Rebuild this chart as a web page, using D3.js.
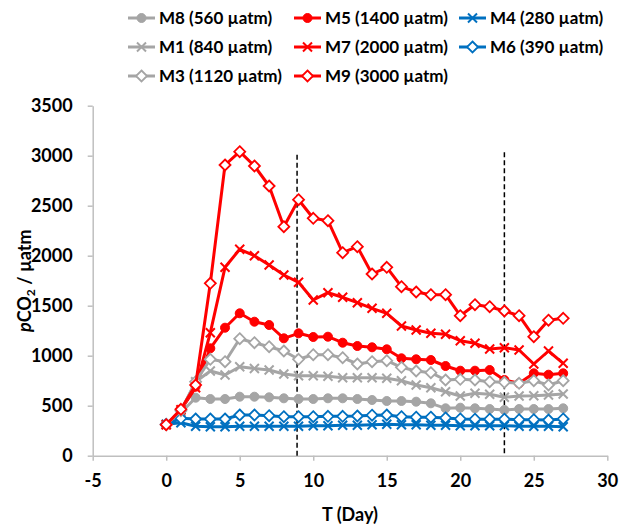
<!DOCTYPE html>
<html>
<head>
<meta charset="utf-8">
<script src="https://cdn.jsdelivr.net/npm/d3@7/dist/d3.min.js"></script>
<style>
  html, body { margin: 0; padding: 0; background: #fff; }
  svg text { font-family: Lato, "Open Sans", sans-serif; font-weight: bold; fill: #000; }
</style>
</head>
<body>
<svg id="chart" width="622" height="531"></svg>
<script>
// ---- data ----
const days = d3.range(0, 28);
const M8 = [310, 430, 580, 567, 567, 590, 590, 584, 574, 567, 567, 574, 574, 567, 557, 547, 547, 540, 524, 474, 480, 474, 467, 457, 467, 467, 467, 474];
const M5 = [310, 460, 690, 1074, 1280, 1424, 1340, 1307, 1174, 1224, 1187, 1190, 1130, 1097, 1084, 1064, 974, 964, 957, 897, 850, 850, 857, 757, 724, 824, 810, 824];
const M4 = [314, 330, 295, 290, 290, 295, 295, 295, 295, 295, 300, 300, 305, 305, 310, 314, 310, 310, 305, 305, 300, 300, 300, 300, 295, 295, 295, 290];
const M1 = [310, 440, 740, 847, 807, 890, 872, 857, 817, 800, 800, 795, 780, 780, 780, 774, 750, 707, 680, 640, 597, 624, 614, 584, 597, 600, 607, 617];
const M7 = [310, 460, 680, 1230, 1884, 2064, 2000, 1907, 1807, 1734, 1557, 1630, 1584, 1530, 1474, 1424, 1297, 1257, 1224, 1214, 1150, 1124, 1067, 1080, 1057, 917, 1047, 924];
const M6 = [314, 374, 367, 367, 367, 407, 407, 400, 390, 390, 390, 394, 394, 397, 405, 407, 390, 385, 385, 378, 368, 365, 365, 365, 360, 360, 357, 368];
const M3 = [310, 450, 740, 964, 940, 1170, 1130, 1090, 1047, 964, 1010, 1010, 980, 917, 940, 950, 884, 847, 830, 757, 764, 757, 740, 734, 724, 750, 707, 750];
const M9 = [310, 464, 707, 1724, 2907, 3040, 2897, 2697, 2290, 2560, 2374, 2350, 2030, 2090, 1817, 1884, 1690, 1637, 1610, 1610, 1400, 1510, 1490, 1447, 1400, 1190, 1355, 1374];

const seriesNames = ["M8 (560 µatm)", "M5 (1400 µatm)", "M4 (280 µatm)", "M1 (840 µatm)", "M7 (2000 µatm)", "M6 (390 µatm)", "M3 (1120 µatm)", "M9 (3000 µatm)"];
const seriesValues = [M8, M5, M4, M1, M7, M6, M3, M9];
const seriesColors = ["#A5A5A5", "#FF0000", "#0070C0", "#A5A5A5", "#FF0000", "#0070C0", "#A5A5A5", "#FF0000"];
const seriesMarkers = ["circle", "circle", "x", "x", "x", "diamond", "diamond", "diamond"];

const xTicks = [-5, 0, 5, 10, 15, 20, 25, 30];
const yTicks = [0, 500, 1000, 1500, 2000, 2500, 3000, 3500];
const dashedDays = [8.9, 23];
const dashedTop = [3010, 3035];

// ---- layout ----
const svg = d3.select("#chart");
const x = d3.scaleLinear().domain([-5, 30]).range([92.7, 607.3]);
const y = d3.scaleLinear().domain([0, 3500]).range([455.7, 105.7]);

// axes
const axisColor = "#BFBFBF";
const gx = svg.append("g").attr("transform", `translate(0,${y(0)})`)
  .call(d3.axisBottom(x).tickValues(xTicks).tickSize(5).tickSizeOuter(0).tickPadding(14).tickFormat(d3.format("d")));
const gy = svg.append("g").attr("transform", `translate(${x(-5)},0)`)
  .call(d3.axisLeft(y).tickValues(yTicks).tickSize(5).tickSizeOuter(0).tickPadding(15).tickFormat(d3.format("d")));
[gx, gy].forEach(g => {
  g.select(".domain").attr("stroke", axisColor).attr("stroke-width", 1.5);
  g.selectAll(".tick line").attr("stroke", axisColor).attr("stroke-width", 1.5);
  g.selectAll(".tick text").style("font-size", "18px").style("font-family", "Lato").style("font-weight", "bold").attr("fill", "#000");
});
gx.selectAll(".tick text").text(d => d < 0 ? "-" + Math.abs(d) : d);

// dashed lines
dashedDays.forEach((d, i) => {
  svg.append("line")
    .attr("x1", x(d)).attr("x2", x(d))
    .attr("y1", y(dashedTop[i])).attr("y2", y(0))
    .attr("stroke", "#000").attr("stroke-width", 1.5).attr("stroke-dasharray", "5,3");
});

// marker drawing
function drawMarker(g, type, color, cx, cy) {
  if (type === "circle") {
    g.append("circle").attr("cx", cx).attr("cy", cy).attr("r", 4.5).attr("fill", color).attr("stroke", color).attr("stroke-width", 1);
  } else if (type === "diamond") {
    const s = 5.5;
    g.append("path").attr("d", `M${cx},${cy - s}L${cx + s},${cy}L${cx},${cy + s}L${cx - s},${cy}Z`)
      .attr("fill", "#fff").attr("stroke", color).attr("stroke-width", 1.8);
  } else {
    const s = 4.5;
    g.append("path").attr("d", `M${cx - s},${cy - s}L${cx + s},${cy + s}M${cx + s},${cy - s}L${cx - s},${cy + s}`)
      .attr("fill", "none").attr("stroke", color).attr("stroke-width", 2);
  }
}

const line = d3.line().x((d, i) => x(days[i])).y(d => y(d));
seriesValues.forEach((vals, si) => {
  const g = svg.append("g");
  g.append("path").datum(vals).attr("d", line)
    .attr("fill", "none").attr("stroke", seriesColors[si]).attr("stroke-width", 3).attr("stroke-linejoin", "round");
  vals.forEach((v, i) => drawMarker(g, seriesMarkers[si], seriesColors[si], x(days[i]), y(v)));
});

// legend
const legCols = [128, 294, 459];
const legRows = [18, 47, 76];
seriesNames.forEach((name, si) => {
  const cx = legCols[si % 3], cy = legRows[Math.floor(si / 3)];
  const g = svg.append("g");
  g.append("line").attr("x1", cx).attr("x2", cx + 27).attr("y1", cy).attr("y2", cy)
    .attr("stroke", seriesColors[si]).attr("stroke-width", 3);
  drawMarker(g, seriesMarkers[si], seriesColors[si], cx + 13.5, cy);
  g.append("text").attr("x", cx + 31).attr("y", cy).attr("dy", "0.35em")
    .style("font-size", "17px").text(name);
});

// axis titles
svg.append("text").attr("x", x(12.5)).attr("y", 521).attr("text-anchor", "middle")
  .style("font-size", "18px").text("T (Day)");

const yt = svg.append("text").attr("transform", `translate(31,${y(1750)}) rotate(-90)`)
  .attr("text-anchor", "middle").style("font-size", "18px");
yt.append("tspan").style("font-style", "italic").text("p");
yt.append("tspan").text("CO");
yt.append("tspan").attr("dy", 4).style("font-size", "12px").text("2");
yt.append("tspan").attr("dy", -4).text(" / µatm");
</script>
</body>
</html>
